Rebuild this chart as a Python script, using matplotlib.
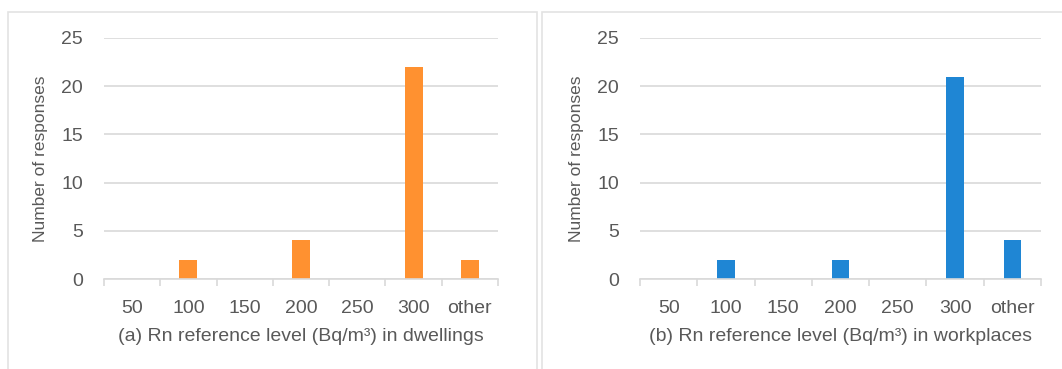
import matplotlib
matplotlib.use('Agg')
import matplotlib.pyplot as plt
from matplotlib.patches import Rectangle

categories = ['50', '100', '150', '200', '250', '300', 'other']
dwellings = [0, 2, 0, 4, 0, 22, 2]
workplaces = [0, 2, 0, 2, 0, 21, 4]

plt.rcParams['font.family'] = ['Liberation Sans', 'DejaVu Sans']
text_col = '#595959'
grid_col = '#D9D9D9'

fig = plt.figure(figsize=(10.62, 3.69), dpi=100)
W, H = 1062, 369

# panel frames
for x0, x1 in [(8, 537), (542, 1070)]:
    fig.patches.append(Rectangle((x0 / W, -0.05), (x1 - x0) / W, 1.05 - 12 / H,
                                 transform=fig.transFigure, fill=False,
                                 edgecolor='#E3E3E3', linewidth=1.2))

def panel(rect, values, color, xlabel, width):
    ax = fig.add_axes(rect)
    x = range(len(categories))
    ax.bar(x, values, width=width, color=color, zorder=3)
    ax.set_xlim(-0.5, len(categories) - 0.5)
    ax.set_ylim(0, 25)
    ax.set_yticks([0, 5, 10, 15, 20, 25])
    ax.yaxis.grid(True, color=grid_col, linewidth=1.2, zorder=0)
    for s in ['top', 'right', 'left']:
        ax.spines[s].set_visible(False)
    ax.spines['bottom'].set_color(grid_col)
    ax.spines['bottom'].set_linewidth(1.2)
    ax.spines['bottom'].set_zorder(4)
    ax.set_xticks(x)
    ax.set_xticklabels(categories)
    ax.set_xticks([i - 0.5 for i in range(len(categories) + 1)], minor=True)
    ax.tick_params(axis='x', which='major', length=0, pad=15,
                   labelsize=14, labelcolor=text_col)
    ax.tick_params(axis='x', which='minor', length=5, width=1.2,
                   color=grid_col)
    ax.tick_params(axis='y', length=0, pad=15, labelsize=14,
                   labelcolor=text_col)
    ax.set_ylabel('Number of responses', fontsize=12.5, color=text_col,
                  labelpad=10)
    ax.set_xlabel(xlabel, fontsize=14, color=text_col, labelpad=8)
    return ax

panel([104 / W, 1 - 279 / H, (498 - 104) / W, (279 - 38) / H],
      dwellings, '#FF9130',
      '(a) Rn reference level (Bq/m\u00b3) in dwellings', 0.32)
panel([640 / W, 1 - 279 / H, (1041 - 640) / W, (279 - 38) / H],
      workplaces, '#1F86D4',
      '(b) Rn reference level (Bq/m\u00b3) in workplaces', 0.3)

fig.savefig('out.png', dpi=100)
